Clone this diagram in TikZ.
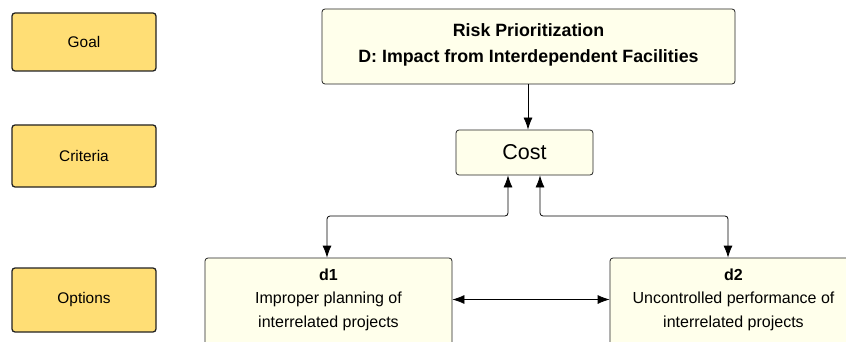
\documentclass[tikz,border=0pt]{standalone}
\usepackage{fontspec}
\setmainfont{Liberation Sans}
\usetikzlibrary{arrows.meta}
\definecolor{lblyellow}{RGB}{255,222,117}
\definecolor{cream}{RGB}{255,255,235}
\definecolor{edge}{RGB}{34,34,34}
\begin{document}
\begin{tikzpicture}[x=1pt,y=-1pt,
  lbl/.style={draw=edge, fill=lblyellow, rounded corners=3pt, line width=1.3pt,
    minimum width=144pt, inner sep=0pt, font=\fontsize{15.4}{18}\selectfont},
  mainbox/.style={draw=edge, fill=cream, rounded corners=3pt, line width=0.8pt, inner sep=0pt},
  txt/.style={align=center, inner sep=0pt, font=\fontsize{16}{23.5}\selectfont},
  arr/.style={-{Latex[length=12pt,width=9pt]}, line width=0.8pt, rounded corners=3pt},
  dbl/.style={{Latex[length=12pt,width=9pt]}-{Latex[length=12pt,width=9pt]}, line width=0.8pt, rounded corners=3pt}
]
\useasboundingbox (0,0) rectangle (846,342);
\clip (0,0) rectangle (846,342);
\fill[white] (0,0) rectangle (846,342);
% level labels
\node[lbl, minimum height=58pt] (goal) at (84,42) {Goal};
\node[lbl, minimum height=62pt] (crit) at (84,156) {Criteria};
\node[lbl, minimum height=64pt] (opts) at (84,300) {Options};
% main boxes
\node[mainbox, minimum width=413pt, minimum height=75pt] (top) at (528.5,46.5) {};
\node[align=center, inner sep=0pt, font=\fontsize{17.8}{26}\selectfont\bfseries] (topt) at (528.5,45) {Risk Prioritization\\D: Impact from Interdependent Facilities};
\node[mainbox, minimum width=137pt, minimum height=45pt, font=\fontsize{21.5}{24}\selectfont] (cost) at (524.5,152.5) {Cost};
\node[mainbox, minimum width=247pt, minimum height=100pt] (d1) at (328.5,308) {};
\node[txt] (d1t) at (328.5,299.5) {\textbf{d1}\\Improper planning of\\interrelated projects};
\node[mainbox, minimum width=247pt, minimum height=100pt] (d2) at (733.5,308) {};
\node[txt] (d2t) at (733.5,299.5) {\textbf{d2}\\Uncontrolled performance of\\interrelated projects};
% connectors
\draw[arr] (top.south -| 528,0) -- (cost.north -| 528,0);
\coordinate (c1) at (508,216);
\coordinate (c2) at (540,216);
\draw[dbl] (cost.south -| c1) -- (c1) -| (d1.north -| 327,0);
\draw[dbl] (cost.south -| c2) -- (c2) -| (d2.north -| 728,0);
\draw[dbl] (d1.east |- d1t) -- (d2.west |- d1t);
\end{tikzpicture}
\end{document}
